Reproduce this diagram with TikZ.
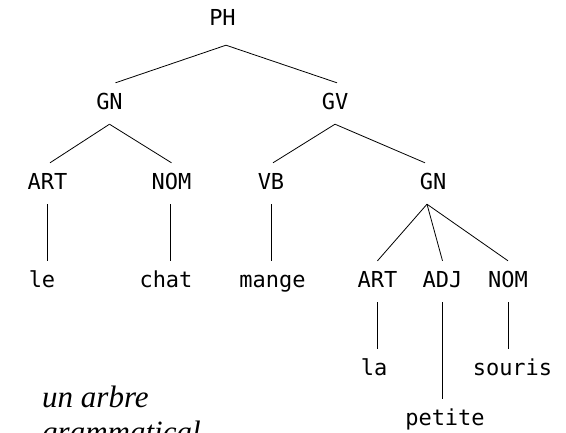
\documentclass[tikz,border=0pt]{standalone}
\usepackage{fontspec}
\newfontfamily\treefont{DejaVu Sans Mono}
\newfontfamily\notefont{Liberation Serif}
\begin{document}
\begin{tikzpicture}[x=1pt,y=-1pt,
  lbl/.style={font=\treefont\fontsize{22}{22}\selectfont, anchor=base,
    text height=16pt, text depth=5pt, inner xsep=0pt, inner ysep=10pt},
  note/.style={font=\notefont\itshape\fontsize{31}{35}\selectfont,
    anchor=base west, inner sep=0pt},
  branch/.style={line width=0.8pt}]
\useasboundingbox (0,0) rectangle (566,432);
\clip (0,0) rectangle (566,432);

% phrase level
\node[lbl] (PH)  at (222.5,25) {PH};
\node[lbl] (GN)  at (109.5,109) {GN};
\node[lbl] (GV)  at (335,109) {GV};

% categories
\node[lbl] (ART) at (47.5,189) {ART};
\node[lbl] (NOM) at (171.5,189) {NOM};
\node[lbl] (VB)  at (271,189) {VB};
\node[lbl] (GNb) at (433,189) {GN};

% words, first row
\node[lbl] (le)    at (42,287) {le};
\node[lbl] (chat)  at (166,287) {chat};
\node[lbl] (mange) at (272.5,287) {mange};

% nested noun phrase
\node[lbl] (ARTb) at (377.5,287) {ART};
\node[lbl] (ADJ)  at (442.5,287) {ADJ};
\node[lbl] (NOMb) at (508,287) {NOM};
\node[lbl] (la)     at (374,375) {la};
\node[lbl] (souris) at (512.5,375) {souris};
\node[lbl] (petite) at (445,425) {petite};

% caption
\node[note] (cap1) at (42,407) {un arbre};
\node[note] (cap2) at (42,442) {grammatical};

% branches
\draw[branch] ([xshift=3.5pt,yshift=-5pt]PH.south) -- ([xshift=6pt]GN.north);
\draw[branch] ([xshift=3.5pt,yshift=-5pt]PH.south) -- ([xshift=2pt]GV.north);
\draw[branch] (GN.south) -- ([xshift=2.5pt]ART.north);
\draw[branch] (GN.south) -- (NOM.north);
\draw[branch] (GV.south) -- ([xshift=2pt]VB.north);
\draw[branch] (GV.south) -- ([xshift=-8pt]GNb.north);
\draw[branch] (ART.south) -- (le.north -| ART.south);
\draw[branch] ([xshift=-1.5pt]NOM.south) -- ([xshift=-1.5pt]chat.north -| NOM.south);
\draw[branch] (VB.south) -- (mange.north -| VB.south);
\draw[branch] ([xshift=-6pt]GNb.south) -- ([xshift=0pt]ARTb.north) ;
\draw[branch] ([xshift=-6pt]GNb.south) -- (ADJ.north);
\draw[branch] ([xshift=-6pt]GNb.south) -- (NOMb.north);
\draw[branch] (ARTb.south) -- (la.north -| ARTb.south);
\draw[branch] (ADJ.south) -- (petite.north -| ADJ.south);
\draw[branch] (NOMb.south) -- (souris.north -| NOMb.south);
\end{tikzpicture}
\end{document}
